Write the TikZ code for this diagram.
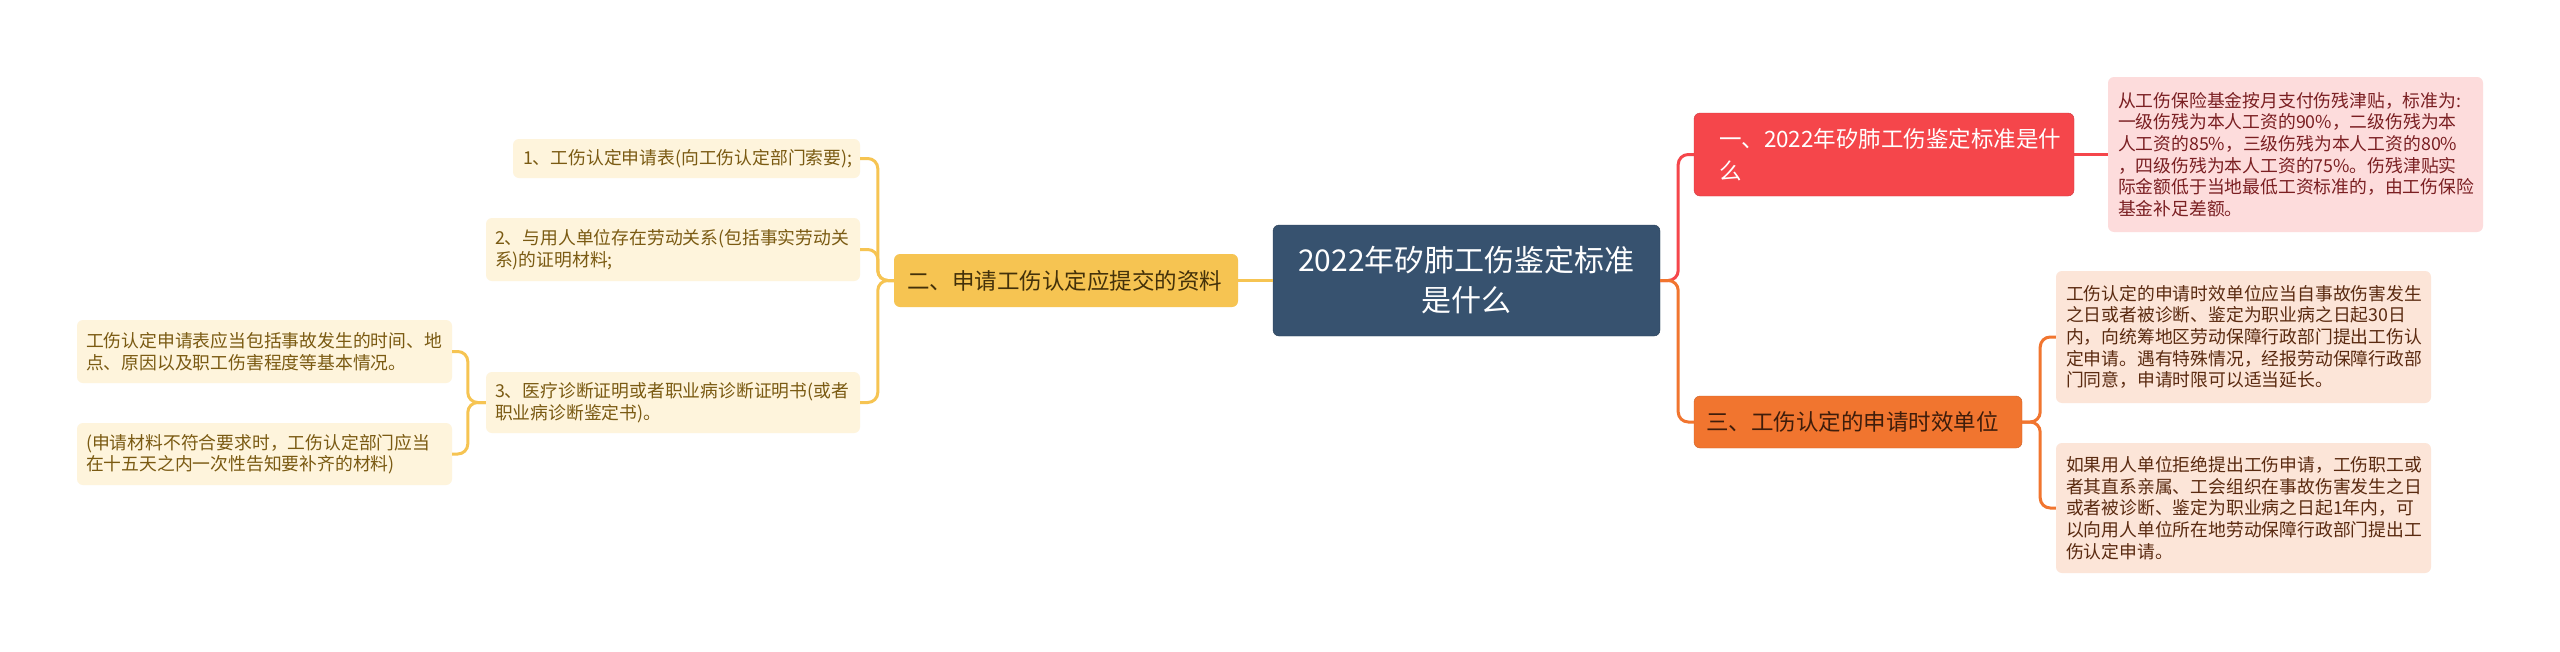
\documentclass[tikz,border=0pt]{standalone}
\usepackage{fontspec}
\setmainfont{Noto Sans CJK SC}
\usepackage{tikz}
\usetikzlibrary{positioning}
\definecolor{rootblue}{HTML}{37526F}
\definecolor{redfill}{HTML}{F5464B}
\definecolor{redsoft}{HTML}{FDDCDC}
\definecolor{redtext}{HTML}{7A1F22}
\definecolor{orgfill}{HTML}{F1752F}
\definecolor{orgsoft}{HTML}{FCE5D8}
\definecolor{orgtext}{HTML}{5A2A10}
\definecolor{ylwfill}{HTML}{F6C452}
\definecolor{ylwsoft}{HTML}{FEF4DC}
\definecolor{ylwtext}{HTML}{7A5A12}
\tikzset{box/.style = {rectangle, rounded corners=6, inner xsep=10, inner ysep=0, align=left}}
\tikzset{big/.style = {font={\fontsize{22.5}{32}\selectfont}}}
\tikzset{small/.style = {font={\fontsize{17.8}{21.6}\selectfont}}}
\tikzset{link/.style = {line width=3, rounded corners=10}}

\begin{document}
\begin{tikzpicture}[x=1pt,y=-1pt]
        \useasboundingbox [fill=white] (0,0) rectangle (2560,651);
        % centre
        \node [box, fill=rootblue, draw=rootblue!80!black, text=white, align=center, text width=367, minimum height=111, font={\fontsize{30}{40}\selectfont}] (root) at (1466.5,280.5) {2022年矽肺工伤鉴定标准\\是什么};
        % right side
        \node [box, big, fill=redfill, draw=redfill!85!black, text=white, inner xsep=25, text width=330, minimum height=83] (one) at (1884,154.5) {一、2022年矽肺工伤鉴定标准是什\\么};
        \node [box, small, fill=redsoft, text=redtext, text width=355, minimum height=155] (onea) at (2295.5,154.5) {从工伤保险基金按月支付伤残津贴，标准为:\\一级伤残为本人工资的90\%，二级伤残为本\\人工资的85\%，三级伤残为本人工资的80\%\\，四级伤残为本人工资的75\%。伤残津贴实\\际金额低于当地最低工资标准的，由工伤保险\\基金补足差额。};
        \node [box, big, fill=orgfill, draw=orgfill!85!black, text=orgtext!70!black, inner xsep=12, text width=304, minimum height=52] (three) at (1858,422) {三、工伤认定的申请时效单位};
        \node [box, small, fill=orgsoft, text=orgtext, text width=355, minimum height=132] (threea) at (2243.5,337) {工伤认定的申请时效单位应当自事故伤害发生\\之日或者被诊断、鉴定为职业病之日起30日\\内，向统筹地区劳动保障行政部门提出工伤认\\定申请。遇有特殊情况，经报劳动保障行政部\\门同意，申请时限可以适当延长。};
        \node [box, small, fill=orgsoft, text=orgtext, text width=355, minimum height=130] (threeb) at (2243.5,508) {如果用人单位拒绝提出工伤申请，工伤职工或\\者其直系亲属、工会组织在事故伤害发生之日\\或者被诊断、鉴定为职业病之日起1年内，可\\以向用人单位所在地劳动保障行政部门提出工\\伤认定申请。};
        % left side
        \node [box, big, fill=ylwfill, text=ylwtext!55!black, inner xsep=13, text width=318, minimum height=53] (two) at (1066,280.5) {二、申请工伤认定应提交的资料};
        \node [box, small, fill=ylwsoft, text=ylwtext, text width=327, minimum height=39] (twoa) at (686.5,158.5) {1、工伤认定申请表(向工伤认定部门索要);};
        \node [box, small, fill=ylwsoft, text=ylwtext, inner xsep=9, text width=356, minimum height=63] (twob) at (673,249.5) {2、与用人单位存在劳动关系(包括事实劳动关\\系)的证明材料;};
        \node [box, small, fill=ylwsoft, text=ylwtext, inner xsep=9, text width=356, minimum height=61] (twoc) at (673,402.5) {3、医疗诊断证明或者职业病诊断证明书(或者\\职业病诊断鉴定书)。};
        \node [box, small, fill=ylwsoft, text=ylwtext, inner xsep=9, text width=357, minimum height=63] (twoca) at (264.5,351.5) {工伤认定申请表应当包括事故发生的时间、地\\点、原因以及职工伤害程度等基本情况。};
        \node [box, small, fill=ylwsoft, text=ylwtext, inner xsep=9, text width=357, minimum height=62] (twocb) at (264.5,454) {(申请材料不符合要求时，工伤认定部门应当\\在十五天之内一次性告知要补齐的材料)};
        % links
        \draw [link, redfill] (root.east) -- +(18,0) |- (one.west);
        \draw [link, orgfill] (root.east) -- +(18,0) |- (three.west);
        \draw [link, redfill] (one.east) -- (onea.west);
        \draw [link, orgfill] (three.east) -- +(18,0) |- (threea.west);
        \draw [link, orgfill] (three.east) -- +(18,0) |- (threeb.west);
        \draw [link, ylwfill] (root.west) -- (two.east);
        \draw [link, ylwfill] (two.west) -- +(-16,0) |- (twoa.east);
        \draw [link, ylwfill] (two.west) -- +(-16,0) |- (twob.east);
        \draw [link, ylwfill] (two.west) -- +(-16,0) |- (twoc.east);
        \draw [link, ylwfill] (twoc.west) -- +(-18,0) |- (twoca.east);
        \draw [link, ylwfill] (twoc.west) -- +(-18,0) |- (twocb.east);
\end{tikzpicture}
\end{document}
